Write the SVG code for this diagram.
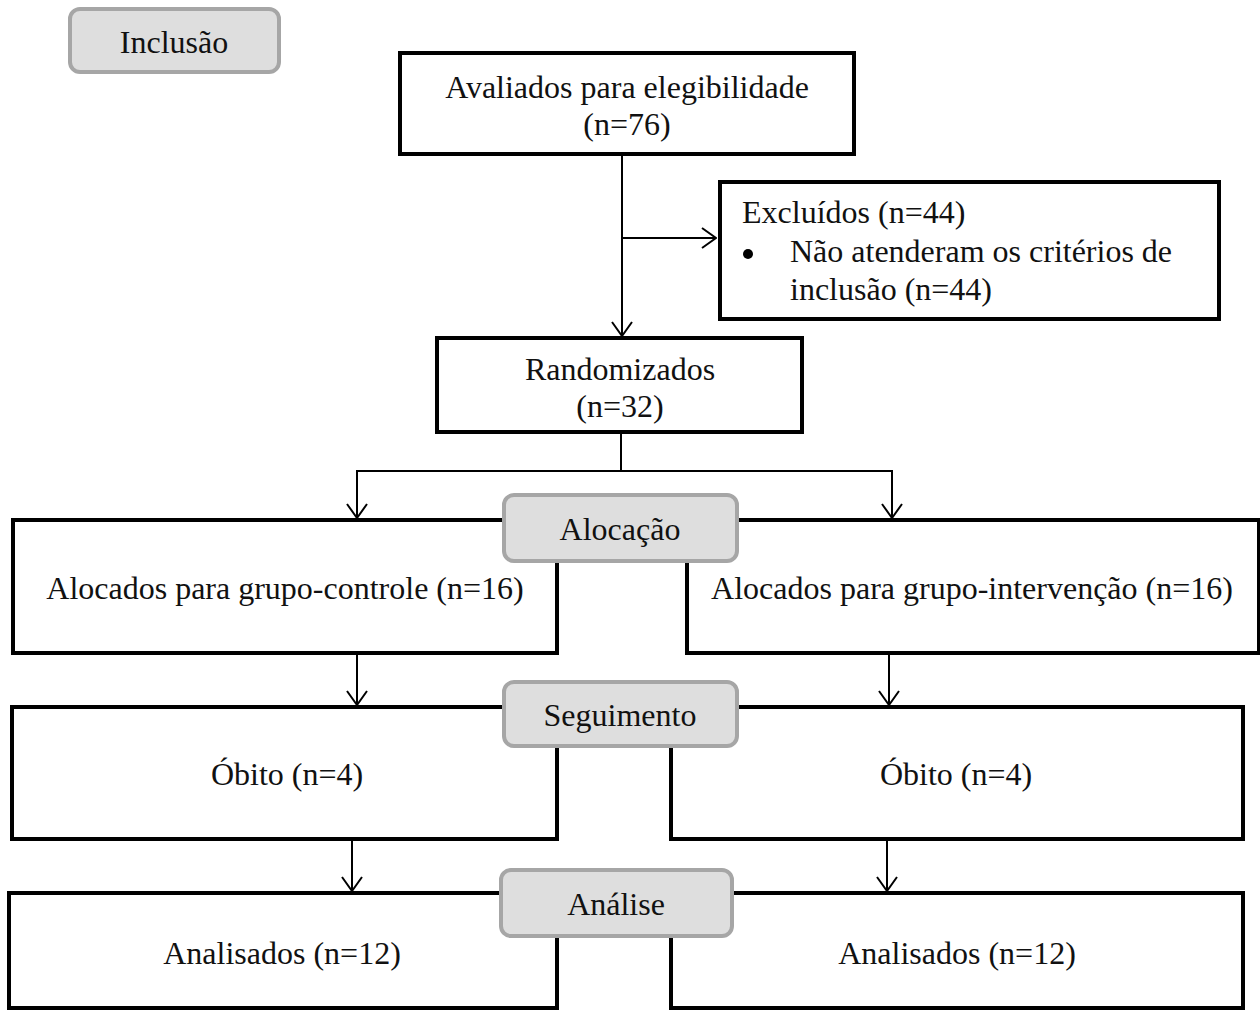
<svg xmlns="http://www.w3.org/2000/svg" width="1260" height="1011" viewBox="0 0 1260 1011">
<style>
.box{fill:#fff;stroke:#000;stroke-width:4}
.lbl{fill:#dedede;stroke:#a6a6a6;stroke-width:4}
.t{font-family:"Liberation Serif","Times New Roman",serif;font-size:32px;fill:#111}
.c{text-anchor:middle}
.ln{fill:none;stroke:#000;stroke-width:2}
</style>
<defs>
<marker id="ah" viewBox="0 0 16 22" refX="15" refY="11" markerWidth="16" markerHeight="22" markerUnits="userSpaceOnUse" orient="auto">
<path d="M1,1 L15,11 L1,21" fill="none" stroke="#000" stroke-width="2"/>
</marker>
</defs>
<rect width="1260" height="1011" fill="#fff"/>

<g id="avaliados"><rect class="box" x="400" y="53" width="454" height="101"/>
<text class="t c" x="627" y="98">Avaliados para elegibilidade</text>
<text class="t c" x="627" y="135">(n=76)</text></g>

<g id="excluidos"><rect class="box" x="720" y="182" width="499" height="137"/>
<text class="t" x="742" y="223">Excluídos (n=44)</text>
<circle cx="748" cy="254" r="5" fill="#000"/>
<text class="t" x="790" y="262">Não atenderam os critérios de</text>
<text class="t" x="790" y="300">inclusão (n=44)</text></g>

<g id="randomizados"><rect class="box" x="437" y="338" width="365" height="94"/>
<text class="t c" x="620" y="380">Randomizados</text>
<text class="t c" x="620" y="417">(n=32)</text></g>

<g id="controle"><rect class="box" x="13" y="520" width="544" height="133"/>
<text class="t c" x="285" y="599">Alocados para grupo-controle (n=16)</text></g>

<g id="intervencao"><rect class="box" x="687" y="520" width="572" height="133"/>
<text class="t c" x="972" y="599">Alocados para grupo-intervenção (n=16)</text></g>

<g id="obito-controle"><rect class="box" x="12" y="707" width="545" height="132"/>
<text class="t c" x="287" y="785">Óbito (n=4)</text></g>

<g id="obito-intervencao"><rect class="box" x="671" y="707" width="572" height="132"/>
<text class="t c" x="956" y="785">Óbito (n=4)</text></g>

<g id="analisados-controle"><rect class="box" x="9" y="893" width="548" height="115"/>
<text class="t c" x="282" y="964">Analisados (n=12)</text></g>

<g id="analisados-intervencao"><rect class="box" x="671" y="893" width="572" height="115"/>
<text class="t c" x="957" y="964">Analisados (n=12)</text></g>

<g id="connectors">
<line class="ln" x1="622" y1="155" x2="622" y2="336" marker-end="url(#ah)"/>
<line class="ln" x1="622" y1="238" x2="716" y2="238" marker-end="url(#ah)"/>
<polyline class="ln" points="621,433 621,471"/>
<line class="ln" x1="356" y1="471" x2="893" y2="471"/>
<line class="ln" x1="357" y1="470" x2="357" y2="518" marker-end="url(#ah)"/>
<line class="ln" x1="892" y1="470" x2="892" y2="518" marker-end="url(#ah)"/>
<line class="ln" x1="357" y1="655" x2="357" y2="705" marker-end="url(#ah)"/>
<line class="ln" x1="889" y1="655" x2="889" y2="705" marker-end="url(#ah)"/>
<line class="ln" x1="352" y1="841" x2="352" y2="891" marker-end="url(#ah)"/>
<line class="ln" x1="887" y1="841" x2="887" y2="891" marker-end="url(#ah)"/>
</g>

<g id="inclusao"><rect class="lbl" x="70" y="9" width="209" height="63" rx="10"/>
<text class="t c" x="174" y="53">Inclusão</text></g>

<g id="alocacao"><rect class="lbl" x="504" y="495" width="233" height="66" rx="10"/>
<text class="t c" x="620" y="540">Alocação</text></g>

<g id="seguimento"><rect class="lbl" x="504" y="682" width="233" height="64" rx="10"/>
<text class="t c" x="620" y="726">Seguimento</text></g>

<g id="analise"><rect class="lbl" x="501" y="870" width="231" height="66" rx="10"/>
<text class="t c" x="616" y="915">Análise</text></g>
</svg>
